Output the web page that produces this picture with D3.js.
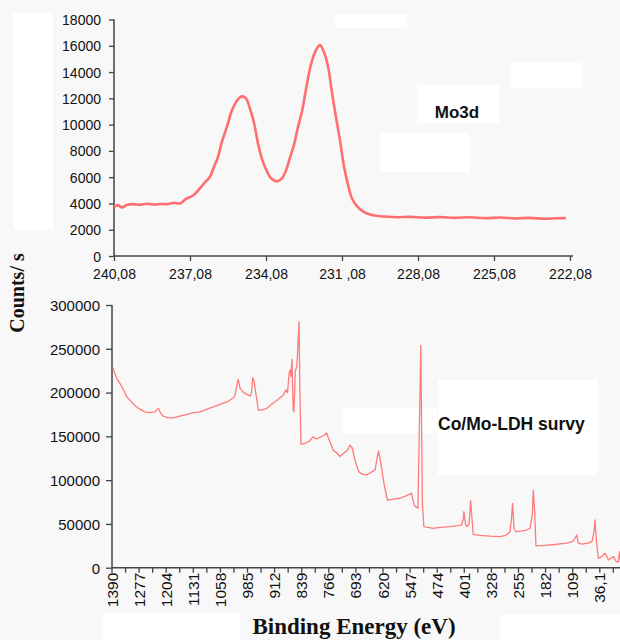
<!DOCTYPE html>
<html><head><meta charset="utf-8">
<script src="https://cdn.jsdelivr.net/npm/d3@7"></script>
<style>
html,body{margin:0;padding:0;background:#f8f8f8;}
svg{display:block;}
</style></head>
<body><svg id="c" width="620" height="640"></svg>
<script>
// ---- Top panel: Mo3d high-resolution spectrum ----
const moEnergy = [240.08,239.92,239.76,239.57,239.33,239.05,238.78,238.50,238.26,237.99,237.71,237.47,237.24,236.96,236.69,236.49,236.29,236.13,235.97,235.82,235.62,235.46,235.30,235.15,235.03,234.87,234.71,234.55,234.40,234.24,234.08,233.92,233.76,233.61,233.45,233.29,233.13,232.97,232.82,232.66,232.50,232.34,232.19,232.07,231.95,231.79,231.63,231.48,231.32,231.16,231.00,230.84,230.69,230.49,230.25,229.97,229.66,229.34,228.95,228.39,227.80,227.21,226.62,226.03,225.43,224.84,224.25,223.66,223.07,222.64,222.24];
const moCounts = [3750,3850,3700,3900,3950,3900,3980,3920,3960,3950,4050,4000,4350,4600,5150,5600,6050,6800,7560,8700,9850,10900,11600,12000,12150,12000,11200,10100,8600,7400,6600,6000,5750,5700,5900,6500,7500,8500,9800,11000,12700,14300,15300,15800,16050,15500,14400,12500,10600,8800,6800,5400,4400,3800,3400,3150,3050,3000,2950,2980,2920,2960,2900,2950,2880,2930,2860,2900,2830,2870,2880];
const moXTicks = [240.08,237.08,234.08,231.08,228.08,225.08,222.08];
const moXLabels = ["240,08","237,08","234,08","231 ,08","228,08","225,08","222,08"];
const moYTicks = [0,2000,4000,6000,8000,10000,12000,14000,16000,18000];

// ---- Bottom panel: survey spectrum ----
const svEnergy = [1348,1345,1337,1328,1319,1310,1299,1288,1275,1261,1248,1234,1225,1221,1212,1199,1185,1167,1148,1129,1113,1094,1075,1056,1037,1023,1018,1013,1010,1005,995,978,974,971,967,960,956,946,933,919,903,889,881,877,873,870,868,865,862,860,856,852,849,846,844,841,830,817,808,800,790,779,772,766,754,744,736,725,714,709,703,695,686,677,664,652,641,636,632,628,623,617,608,596,574,558,543,540,534,526,522,518,516,514,510,499,485,466,439,418,408,404,402,398,394,388,384,380,377,359,332,305,289,278,274,271,267,262,245,233,224,218,215,211,208,183,157,125,108,98,94,84,68,57,52,49,45,40,33,22,16,13,6,-1,-8,-14,-17,-20];
const svCounts = [229000,225000,216000,210000,203000,195000,190000,185000,181000,178000,177000,178000,182000,178000,173000,171000,171000,173000,175000,177000,178000,181000,184000,187000,190000,194000,198000,210000,215000,205000,200000,196000,200000,217000,212000,192000,180000,180000,182000,187000,192000,197000,203000,200000,222000,226000,218000,238000,180000,178000,225000,230000,255000,281000,203000,141000,142000,145000,149600,147000,149000,151000,154000,147000,134000,131000,127000,131000,135000,140000,137000,122000,110000,107000,106000,109000,112000,125000,133000,124000,112000,95000,77300,78000,79300,82000,85000,78000,70000,68000,160000,254000,160000,75000,47000,46000,45000,46000,47000,48000,49000,55000,64000,50000,47000,50000,76500,55000,38000,37000,36000,35400,37000,41000,55000,73500,45000,41000,42000,43000,45000,60000,88700,60000,25000,25500,26500,28000,30000,37300,28000,27000,28000,30000,40000,54500,30000,10700,12000,16400,12000,8800,11000,12600,7000,6800,18000,8000];
const svXLabels = ["1390","1277","1204","1131","1058","985","912","839","766","693","620","547","474","401","328","255","182","109","36,1"];
const svYTicks = [0,50000,100000,150000,200000,250000,300000];

const svg = d3.select("#c");
const sans = "'Liberation Sans', Arial, sans-serif";
const serif = "'Liberation Serif', 'Times New Roman', serif";
const axisCol = "#444";

// white erased patches of the original figure
const patches = [[13,13,40,217],[335,14,72,14],[510,63,73,25],[417,85,82,38],[380,133,90,39],
                 [343,408,94,25],[438,380,160,95],[103,613,137,27],[500,615,120,25]];
svg.selectAll("rect.p").data(patches).join("rect").attr("class","p")
  .attr("x",d=>d[0]).attr("y",d=>d[1]).attr("width",d=>d[2]).attr("height",d=>d[3]).attr("fill","#fff");

// ---------- Top panel ----------
const xT = d3.scaleLinear().domain([240.08,222.08]).range([114,570]);
const yT = d3.scaleLinear().domain([0,18000]).range([256,19.5]);

const gT = svg.append("g");
gT.append("line").attr("x1",114).attr("x2",573).attr("y1",yT(0)).attr("y2",yT(0)).attr("stroke",axisCol).attr("stroke-width",1.5);
gT.append("line").attr("x1",114).attr("x2",114).attr("y1",yT(0)).attr("y2",yT(18000)).attr("stroke",axisCol).attr("stroke-width",1.5);

const yAxT = gT.append("g").attr("transform","translate(114,0)")
  .call(d3.axisLeft(yT).tickValues(moYTicks).tickSize(5).tickFormat(d3.format("d")));
yAxT.select(".domain").remove();
yAxT.selectAll("line").attr("stroke",axisCol).attr("stroke-width",1.3);
yAxT.selectAll("text").attr("font-family",sans).attr("font-size",14).attr("fill","#111").attr("x",-13).attr("dy","0.36em");

const xAxT = gT.append("g").attr("transform",`translate(0,${yT(0)})`)
  .call(d3.axisBottom(xT).tickValues(moXTicks).tickSize(5).tickFormat((d,i)=>moXLabels[i]));
xAxT.select(".domain").remove();
xAxT.selectAll("line").attr("stroke",axisCol).attr("stroke-width",1.3);
xAxT.selectAll("text").attr("font-family",sans).attr("font-size",14).attr("fill","#111").attr("y",13);

gT.append("path").datum(moEnergy.map((e,i)=>[e,moCounts[i]]))
  .attr("d",d3.line().x(d=>xT(d[0])).y(d=>yT(d[1])).curve(d3.curveCatmullRom))
  .attr("fill","none").attr("stroke","#ff6f6f").attr("stroke-width",2.6).attr("stroke-linejoin","round");

gT.append("text").attr("x",457).attr("y",118).attr("text-anchor","middle")
  .attr("font-family",sans).attr("font-weight","bold").attr("font-size",17).attr("fill","#111").text("Mo3d");

// ---------- Bottom panel ----------
const pxPerEV = 27.1/73;
const xB = d3.scaleLinear().domain([1350, 1350 - 508/pxPerEV]).range([112,620]);
const yB = d3.scaleLinear().domain([0,300000]).range([567.7,305]);
const xLab = d3.scalePoint().domain(svXLabels).range([112, 112 + 27.1*(svXLabels.length-1)]);

const gB = svg.append("g");
gB.append("line").attr("x1",112).attr("x2",620).attr("y1",yB(0)).attr("y2",yB(0)).attr("stroke",axisCol).attr("stroke-width",1.5);
gB.append("line").attr("x1",112).attr("x2",112).attr("y1",yB(0)).attr("y2",yB(300000)).attr("stroke",axisCol).attr("stroke-width",1.5);

const yAxB = gB.append("g").attr("transform","translate(112,0)")
  .call(d3.axisLeft(yB).tickValues(svYTicks).tickSize(6).tickFormat(d3.format("d")));
yAxB.select(".domain").remove();
yAxB.selectAll("line").attr("stroke",axisCol).attr("stroke-width",1.3);
yAxB.selectAll("text").attr("font-family",sans).attr("font-size",15).attr("fill","#111").attr("x",-12).attr("dy","0.36em");

// ticks: every label plus midpoints (category axis with half steps)
const tickIdx = d3.range(0, svXLabels.length*2);
gB.selectAll("line.bt").data(tickIdx).join("line").attr("class","bt")
  .attr("x1",i=>xLab(svXLabels[0]) + i*xLab.step()/2).attr("x2",i=>xLab(svXLabels[0]) + i*xLab.step()/2)
  .attr("y1",yB(0)).attr("y2",yB(0)+5).attr("stroke",axisCol).attr("stroke-width",1.3);

gB.selectAll("text.bl").data(svXLabels).join("text").attr("class","bl")
  .attr("transform",d=>`translate(${xLab(d)+5.5},${yB(0)+5}) rotate(-90)`)
  .attr("text-anchor","end").attr("font-family",sans).attr("font-size",15.5).attr("fill","#111").text(d=>d);

gB.append("path").datum(svEnergy.map((e,i)=>[e,svCounts[i]]))
  .attr("d",d3.line().x(d=>xB(d[0])).y(d=>yB(d[1])))
  .attr("fill","none").attr("stroke","#ff7b7b").attr("stroke-width",1.3).attr("stroke-linejoin","round");

gB.append("text").attr("x",438).attr("y",430)
  .attr("font-family",sans).attr("font-weight","bold").attr("font-size",17.5).attr("fill","#111").text("Co/Mo-LDH survy");

// axis titles
svg.append("text").attr("transform","translate(24,293) rotate(-90)").attr("text-anchor","middle")
  .attr("font-family",serif).attr("font-weight","bold").attr("font-size",20).attr("fill","#111").text("Counts/ s");
svg.append("text").attr("x",354).attr("y",634).attr("text-anchor","middle")
  .attr("font-family",serif).attr("font-weight","bold").attr("font-size",23).attr("fill","#111").text("Binding Energy (eV)");
</script></body></html>
